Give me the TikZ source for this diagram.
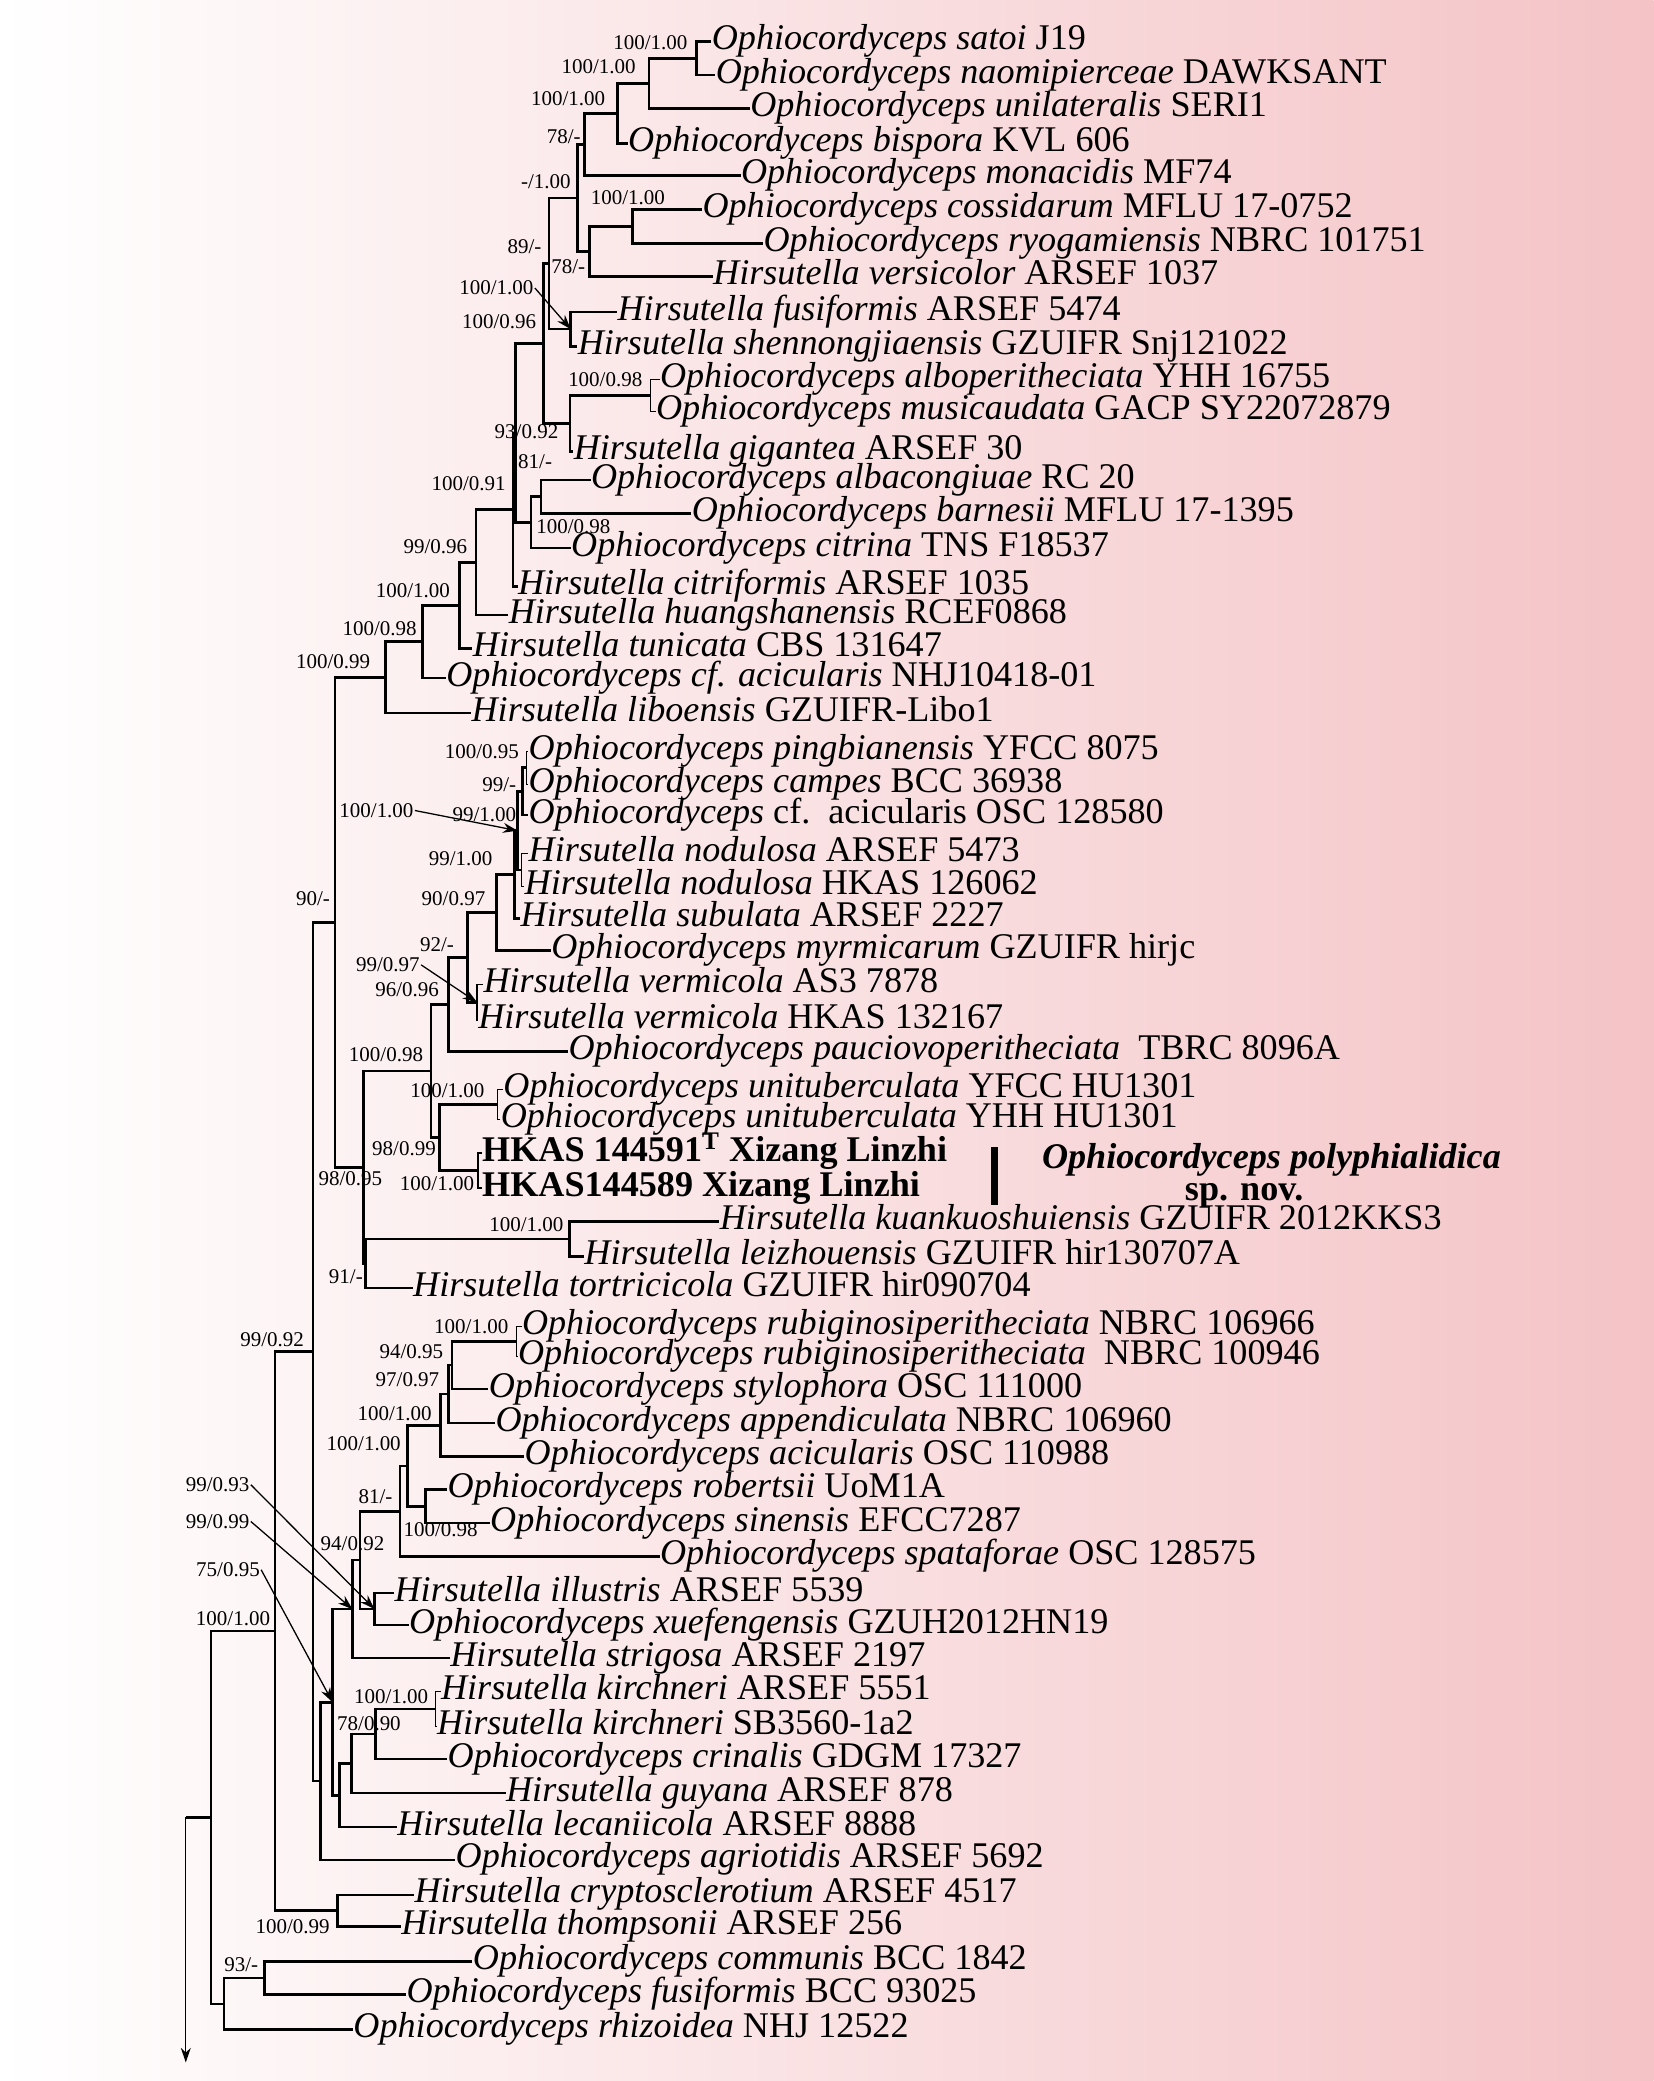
\documentclass[tikz,border=0pt]{standalone}
\usepackage{fontspec}
\setmainfont{Liberation Serif}
\usetikzlibrary{arrows.meta}
\definecolor{pinkR}{RGB}{244,195,198}

\begin{document}
\begin{tikzpicture}[x=0.02cm, y=-0.02cm, >={Stealth[length=2.2mm, width=1.5mm]},
	tx/.style={anchor=west, inner sep=0pt, font=\fontsize{15.5}{18}\selectfont, text height=10pt, text depth=3pt},
	bs/.style={anchor=east, inner sep=0.4pt, font=\fontsize{9}{10}\selectfont, text height=6pt, text depth=0pt},
	br/.style={line width=1.1pt},
	tb/.style={line width=0.55pt}]
	% background
	\shade[left color=white, right color=pinkR] (0,0) rectangle (1246,1568);
	\useasboundingbox (0,0) rectangle (1246,1568);
	% terminal taxa
	\foreach \n/\x/\y/\t in {
		satoi/536/31.4/{\textit{Ophiocordyceps satoi} J19},
		naomi/539/56.5/{\textit{Ophiocordyceps naomipierceae} DAWKSANT},
		unilat/565/81.7/{\textit{Ophiocordyceps unilateralis} SERI1},
		bispora/473/108/{\textit{Ophiocordyceps bispora} KVL 606},
		monac/558/132.4/{\textit{Ophiocordyceps monacidis} MF74},
		cossid/529/158/{\textit{Ophiocordyceps cossidarum} MFLU 17-0752},
		ryogam/575/183.4/{\textit{Ophiocordyceps ryogamiensis} NBRC 101751},
		versic/537/208.5/{\textit{Hirsutella versicolor} ARSEF 1037},
		hfusif/465/235/{\textit{Hirsutella fusiformis} ARSEF 5474},
		shenno/435/261/{\textit{Hirsutella shennongjiaensis} GZUIFR Snj121022},
		albope/497/285.8/{\textit{Ophiocordyceps alboperitheciata} YHH 16755},
		musica/494/310.2/{\textit{Ophiocordyceps musicaudata} GACP SY22072879},
		gigant/432/340.3/{\textit{Hirsutella gigantea} ARSEF 30},
		albaco/445/361.7/{\textit{Ophiocordyceps albacongiuae} RC 20},
		barnes/521/386.8/{\textit{Ophiocordyceps barnesii} MFLU 17-1395},
		citrin/430/413/{\textit{Ophiocordyceps citrina} TNS F18537},
		citrif/390/442/{\textit{Hirsutella citriformis} ARSEF 1035},
		huangs/383/463.4/{\textit{Hirsutella huangshanensis} RCEF0868},
		tunica/356/488.5/{\textit{Hirsutella tunicata} CBS 131647},
		cfacic/336/511/{\textit{Ophiocordyceps cf. acicularis} NHJ10418-01},
		libo/355/537.3/{\textit{Hirsutella liboensis} GZUIFR-Libo1},
		pingbi/398/566/{\textit{Ophiocordyceps pingbianensis} YFCC 8075},
		campes/398/591/{\textit{Ophiocordyceps campes} BCC 36938},
		cfosc/398/614/{\textit{Ophiocordyceps} cf.\ \ acicularis OSC 128580},
		noduA/398/643/{\textit{Hirsutella nodulosa} ARSEF 5473},
		noduH/395/668/{\textit{Hirsutella nodulosa} HKAS 126062},
		subula/392/692/{\textit{Hirsutella subulata} ARSEF 2227},
		myrmic/415/716.2/{\textit{Ophiocordyceps myrmicarum} GZUIFR hirjc},
		vermA/364/742/{\textit{Hirsutella vermicola} AS3 7878},
		vermH/360/768.5/{\textit{Hirsutella vermicola} HKAS 132167},
		paucio/428/792.3/{\textit{Ophiocordyceps pauciovoperitheciata}\ \ TBRC 8096A},
		unitY/379/821/{\textit{Ophiocordyceps unituberculata} YFCC HU1301},
		unitH/377/843.7/{\textit{Ophiocordyceps unituberculata} YHH HU1301},
		hkasA/363/868.8/{\textbf{HKAS 144591\textsuperscript{T} Xizang Linzhi}},
		hkasB/363/895.2/{\textbf{HKAS144589 Xizang Linzhi}},
		kuanku/542/920.3/{\textit{Hirsutella kuankuoshuiensis} GZUIFR 2012KKS3},
		leizho/440/946.7/{\textit{Hirsutella leizhouensis} GZUIFR hir130707A},
		tortri/311/970.6/{\textit{Hirsutella tortricicola} GZUIFR hir090704},
		rubigA/393/999.4/{\textit{Ophiocordyceps rubiginosiperitheciata} NBRC 106966},
		rubigB/390/1022/{\textit{Ophiocordyceps rubiginosiperitheciata}\ \ NBRC 100946},
		stylop/368/1046.6/{\textit{Ophiocordyceps stylophora} OSC 111000},
		append/373/1072.3/{\textit{Ophiocordyceps appendiculata} NBRC 106960},
		acicul/395/1097.4/{\textit{Ophiocordyceps acicularis} OSC 110988},
		robert/337/1122.5/{\textit{Ophiocordyceps robertsii} UoM1A},
		sinens/369/1147.6/{\textit{Ophiocordyceps sinensis} EFCC7287},
		spataf/497/1172.8/{\textit{Ophiocordyceps spataforae} OSC 128575},
		illust/297/1200.4/{\textit{Hirsutella illustris} ARSEF 5539},
		xuefen/308/1224.3/{\textit{Ophiocordyceps xuefengensis} GZUH2012HN19},
		strigo/339/1249.4/{\textit{Hirsutella strigosa} ARSEF 2197},
		kirchA/332/1274.4/{\textit{Hirsutella kirchneri} ARSEF 5551},
		kirchB/329/1300.8/{\textit{Hirsutella kirchneri} SB3560-1a2},
		crinal/337/1325.4/{\textit{Ophiocordyceps crinalis} GDGM 17327},
		guyana/381/1351/{\textit{Hirsutella guyana} ARSEF 878},
		lecani/299/1376.7/{\textit{Hirsutella lecaniicola} ARSEF 8888},
		agriot/343/1401.3/{\textit{Ophiocordyceps agriotidis} ARSEF 5692},
		crypto/312/1427.7/{\textit{Hirsutella cryptosclerotium} ARSEF 4517},
		thomps/302/1451.5/{\textit{Hirsutella thompsonii} ARSEF 256},
		commun/356/1478/{\textit{Ophiocordyceps communis} BCC 1842},
		ofusif/306/1503/{\textit{Ophiocordyceps fusiformis} BCC 93025},
		rhizoi/266/1529/{\textit{Ophiocordyceps rhizoidea} NHJ 12522}}
		\node[tx] (\n) at (\x,\y) {\t};
	% internal nodes
	\foreach \n/\x/\y in {A/524.6/44, B/489/62.85, C/465.4/85.4, D/440.5/108.9, G/476.5/170.7, F/444/189.6,
		E/435/149.25, I/430/248, H/413.6/198.6, L/490/298, K/429.4/319.2, J/409.3/258.9, O/407.6/374.25,
		N/400/393.6, M1/388.4/326.25, M/386.5/384.1, Q/358.8/423.75, R/346.4/456.1, S/318.5/483.5, T/290.3/510.4,
		a1/396.6/578.5, a2/393.7/596.25, a3/393/655.5, a4/390/625.9, a5/387.5/659, a6/373.9/687.6,
		vm/359.5/755.25, a7/352.3/721.4, a8/337.9/756.9, Z/374.8/832.35, HK/360.2/882, Y/331.3/857.2,
		X/324.8/807, KL/429.3/933.5, W1/275.5/952, W/273.7/879.5, U/252.4/694.9,
		rb/389/1010.7, r1/340.5/1028.65, r2/337.8/1050.5, r3/332/1074, sr/320.5/1135, r4/307/1104.5,
		r5/301.3/1138.7, ix/282.1/1212.35, r6/271.3/1175.5, r7/265.6/1212.5, kir/328.2/1287.6,
		k2/282.9/1306.5, k3/264.8/1328.8, k4/256/1352.7, r8/250.6/1282.6, Vb/241.7/1342, V/236/1018.5,
		cr/254.4/1439.6, V2/207.2/1229, cf/199.5/1490.5, cc/168.7/1509.8, V3/159.1/1369.4,
		rt/140/1369.4, rtend/140/1554}
		\coordinate (\n) at (\x,\y);
	% branches
	\foreach \p/\c in {A/satoi, A/naomi, B/A, B/unilat, C/B, C/bispora, D/C, D/monac, G/cossid, G/ryogam,
		F/G, F/versic, E/D, E/F, I/hfusif, I/shenno, H/E, H/I, K/L, K/gigant, J/H, J/K, O/albaco, O/barnes,
		N/O, N/citrin, M1/J, M1/N, M/M1, M/citrif, Q/M, Q/huangs, R/Q, R/tunica, S/R, S/cfacic, T/S, T/libo,
		a2/a1, a2/cfosc, a4/a2, a4/a3, a5/a4, a5/subula, a6/a5, a6/myrmic, a7/a6, a7/vm, a8/a7, a8/paucio,
		Y/Z, Y/HK, X/a8, X/Y, KL/kuanku, KL/leizho, W1/KL, W1/tortri, W/X, W/W1, U/T, U/W,
		r1/rb, r1/stylop, r2/r1, r2/append, r3/r2, r3/acicul, sr/robert, sr/sinens, r4/r3, r4/sr, r5/r4,
		r5/spataf, ix/illust, ix/xuefen, r6/r5, r6/ix, r7/r6, r7/strigo, k2/kir, k2/crinal, k3/k2, k3/guyana,
		k4/k3, k4/lecani, r8/r7, r8/k4, Vb/r8, Vb/agriot, V/U, V/Vb, cr/crypto, cr/thomps, V2/V, V2/cr,
		cf/commun, cf/ofusif, cc/cf, cc/rhizoi, V3/V2, V3/cc}
		\draw[br] (\p) |- (\c);
	\foreach \p/\c in {L/albope, L/musica, a1/pingbi, a1/campes, a3/noduA, a3/noduH, vm/vermA, vm/vermH,
		Z/unitY, Z/unitH, HK/hkasA, HK/hkasB, rb/rubigA, rb/rubigB, kir/kirchA, kir/kirchB}
		\draw[tb] (\p) |- (\c);
	\draw[br] (V3) -- (rt);
	\draw[tb, ->] (rt) -- (rtend);
	% support values
	\foreach \t/\x/\y [count=\i] in {{100/1.00}/519/32, {100/1.00}/480/50, {100/1.00}/457/74, {78/-}/438.5/103,
		{-/1.00}/431/137, {100/1.00}/502/149, {89/-}/409/186, {78/-}/442/201, {100/0.96}/405/242.5,
		{100/0.98}/485/286, {93/0.92}/421.7/325, {81/-}/417/348, {100/0.91}/382/364, {100/0.98}/461/397,
		{99/0.96}/353/412, {100/1.00}/340/444.6, {100/0.98}/315/473.5, {100/0.99}/280/498.6,
		{100/0.95}/392/566, {99/-}/390/591, {99/1.00}/390/614, {99/1.00}/372/646.6, {90/0.97}/366.7/676.8,
		{90/-}/249.6/676.8, {92/-}/343/712, {96/0.96}/331.7/745.4, {100/0.98}/319.8/794.7,
		{100/1.00}/366/822, {98/0.99}/329.4/865, {100/1.00}/358.2/891.5, {98/0.95}/289/887.7,
		{100/1.00}/425.5/922.8, {91/-}/274.4/961.8, {99/0.92}/230/1009.5, {100/1.00}/384/999.4,
		{94/0.95}/335/1018, {97/0.97}/332/1039.6, {100/1.00}/326.3/1064.7, {100/1.00}/303/1087.3,
		{81/-}/296.7/1127.5, {100/0.98}/361/1152.7, {94/0.92}/290.6/1162.7, {100/1.00}/204.5/1219.2,
		{100/1.00}/323.6/1278.2, {78/0.90}/303/1298.8, {100/0.99}/249.4/1451.5, {93/-}/195.6/1480.4}
		\node[bs] (bs\i) at (\x,\y) {\t};
	% support values with pointers
	\node[bs] (lbI) at (403,217) {100/1.00};
	\node[bs] (lbA4) at (312.6,610.7) {100/1.00};
	\node[bs] (lbVm) at (317.3,727) {99/0.97};
	\node[bs] (lbIx) at (189,1118.7) {99/0.93};
	\node[bs] (lbR7) at (189,1146.4) {99/0.99};
	\node[bs] (lbR8) at (196.8,1182.8) {75/0.95};
	\draw[tb, ->] (lbI.east) -- (I);
	\draw[tb, ->] (lbA4.east) -- (a4);
	\draw[tb, ->] (lbVm.east) -- (vm);
	\draw[tb, ->] (lbIx.east) -- (ix);
	\draw[tb, ->] (lbR7.east) -- (r7);
	\draw[tb, ->] (lbR8.east) -- (r8);
	% new species
	\fill (746.5,864) rectangle (751.6,908);
	\node[font=\fontsize{15.5}{18}\selectfont\bfseries\itshape, inner sep=0pt] (spname) at (958,874) {Ophiocordyceps polyphialidica};
	\node[font=\fontsize{15.5}{18}\selectfont\bfseries, inner sep=0pt] (spnov) at (937.5,901) {sp. nov.};
\end{tikzpicture}
\end{document}
